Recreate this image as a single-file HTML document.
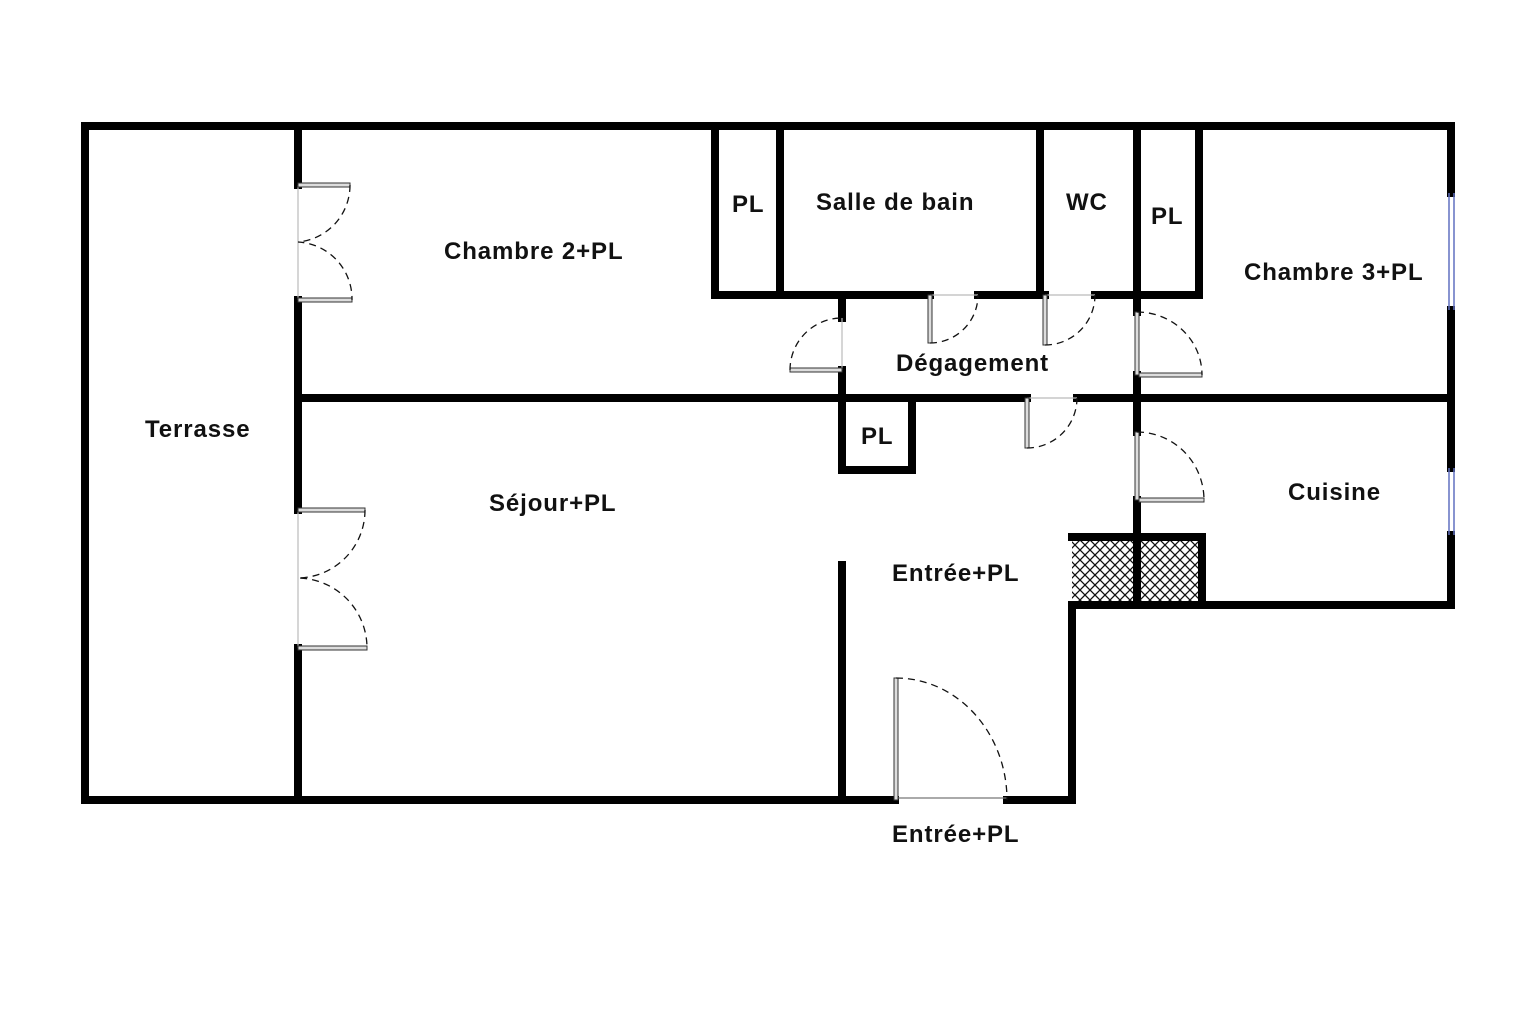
<!DOCTYPE html>
<html><head><meta charset="utf-8"><style>
html,body{margin:0;padding:0;background:#fff}
svg{display:block}
text{font-family:"Liberation Sans",sans-serif;font-weight:bold;font-size:24px;letter-spacing:0.9px;fill:#111}
</style></head><body>
<svg width="1536" height="1024" viewBox="0 0 1536 1024" xmlns="http://www.w3.org/2000/svg">
<defs>
<pattern id="h" width="10" height="10" patternUnits="userSpaceOnUse">
<path d="M0 0L10 10M10 0L0 10" stroke="#111" stroke-width="1.3"/>
</pattern>
</defs>
<rect x="1072" y="537" width="130" height="68" fill="url(#h)"/>
<g stroke="#000" stroke-width="8" fill="none" stroke-linecap="square">
<path d="M85 126H1451V193M1451 310V468M1451 535V605H1072V800H1007M895 800H85V126"/>
<path d="M298 126V185M298 300V510M298 648V800"/>
<path d="M298 398H1027M1077 398H1451"/>
<path d="M715 126V295H930M978 295H1045M1095 295H1199V126M780 126V295M1040 126V295M1137 126V312M1137 375V432M1137 500V605"/>
<path d="M842 295V318M842 370V470H912V398"/>
<path d="M842 565V800"/>
<path d="M1072 537H1202V605"/>
</g>
<g stroke="#6070c0" stroke-width="1.5"><line x1="1449" y1="193" x2="1449" y2="310"/><line x1="1454" y1="193" x2="1454" y2="310"/><line x1="1449" y1="468" x2="1449" y2="535"/><line x1="1454" y1="468" x2="1454" y2="535"/></g>
<g stroke="#bbb" stroke-width="1.2">
<line x1="298" y1="185" x2="298" y2="300"/><line x1="298" y1="510" x2="298" y2="648"/>
<line x1="842" y1="318" x2="842" y2="370"/><line x1="930" y1="295" x2="978" y2="295"/>
<line x1="1045" y1="295" x2="1095" y2="295"/><line x1="1027" y1="398" x2="1077" y2="398"/>
<line x1="895" y1="798" x2="1007" y2="798" stroke="#777"/>
</g>
<g fill="#ddd" stroke="#333" stroke-width="1">
<rect x="298" y="183" width="52" height="4"/><rect x="298" y="298" width="54" height="4"/>
<rect x="298" y="508" width="67" height="4"/><rect x="298" y="646" width="69" height="4"/>
<rect x="790" y="368" width="52" height="4"/>
<rect x="928" y="295" width="4" height="48"/>
<rect x="1043" y="295" width="4" height="50"/>
<rect x="1135" y="312" width="4" height="63"/><rect x="1139" y="373" width="63" height="4"/>
<rect x="1025" y="398" width="4" height="50"/>
<rect x="1135" y="432" width="4" height="68"/><rect x="1139" y="498" width="65" height="4"/>
<rect x="894" y="678" width="4" height="122"/>
</g>
<g fill="none" stroke="#111" stroke-width="1.3" stroke-dasharray="7 5">
<path d="M350 185A57 57 0 0 1 298 242A57 57 0 0 1 352 300"/>
<path d="M365 510A68 68 0 0 1 298 578A70 70 0 0 1 367 648"/>
<path d="M790 370A52 52 0 0 1 842 318"/>
<path d="M930 343A48 48 0 0 0 978 295"/>
<path d="M1045 345A50 50 0 0 0 1095 295"/>
<path d="M1137 312A65 63 0 0 1 1202 375"/>
<path d="M1027 448A50 50 0 0 0 1077 398"/>
<path d="M1137 432A67 68 0 0 1 1204 500"/>
<path d="M896 678A111 122 0 0 1 1007 800"/>
</g>
<text x="145" y="437">Terrasse</text>
<text x="444" y="259">Chambre 2+PL</text>
<text x="732" y="212">PL</text>
<text x="816" y="210">Salle de bain</text>
<text x="1066" y="210">WC</text>
<text x="1151" y="224">PL</text>
<text x="1244" y="280">Chambre 3+PL</text>
<text x="896" y="371">Dégagement</text>
<text x="861" y="444">PL</text>
<text x="489" y="511">Séjour+PL</text>
<text x="1288" y="500">Cuisine</text>
<text x="892" y="581">Entrée+PL</text>
<text x="892" y="842">Entrée+PL</text>
</svg>
</body></html>
